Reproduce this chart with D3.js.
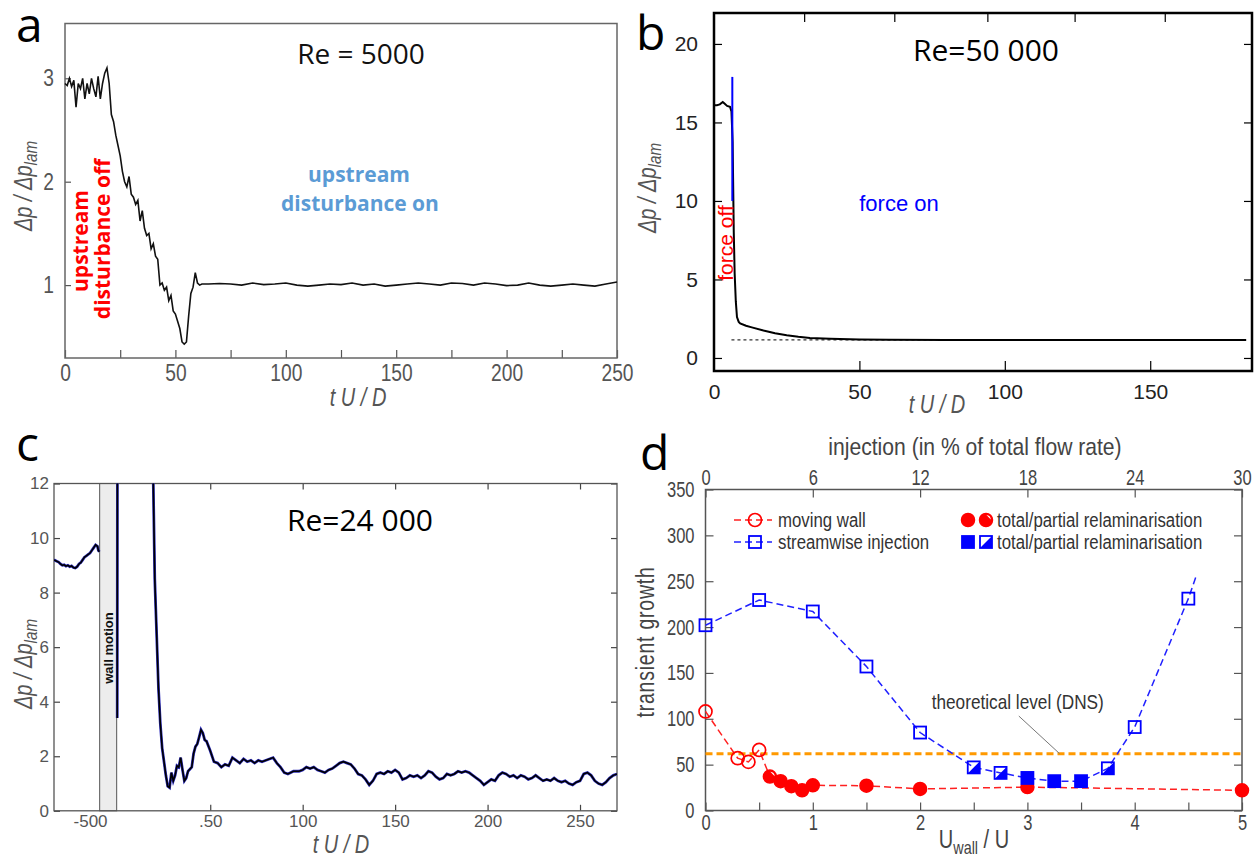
<!DOCTYPE html>
<html>
<head>
<meta charset="utf-8">
<script src="https://cdn.jsdelivr.net/npm/d3@7"></script>
<style>
  body { margin: 0; background: #fff; }
  svg { display: block; }
</style>
</head>
<body>
<svg id="fig" width="1260" height="861"></svg>
<script>
// ---- panel a : Re = 5000, [t, dp/dp_lam]
const seriesA = [
  [0,2.95],[1,2.93],[2,3.0],[3,2.92],[4,2.98],[5,2.72],[6,2.95],[7,2.9],[8,3.0],[9,2.8],
  [10,2.95],[11,2.85],[12,3.0],[13,2.9],[14,2.82],[15,3.02],[16,2.8],[17,2.95],[18,3.05],[19,3.1],
  [20,2.95],[21,2.65],[22,2.58],[23,2.45],[24,2.35],[25,2.25],[26,2.1],[27,2.0],[28,1.95],[29,2.05],
  [30,1.88],[31,1.85],[32,1.78],[33,1.82],[34,1.62],[35,1.72],[36,1.55],[37,1.48],[38,1.5],[39,1.35],
  [40,1.4],[41,1.28],[42,1.25],[43,1.0],[44,1.02],[45,0.95],[46,0.98],[47,0.85],[48,0.9],[49,0.75],
  [50,0.72],[51,0.65],[52,0.58],[53,0.45],[54,0.43],[55,0.45],[56,0.7],[57,0.92],[58,0.98],[59,1.12],
  [60,1.02],[61,1.0],[62,1.01],[65,1.01],[70,1.015],[75,1.01],[80,1.0],[85,1.02],[90,1.005],[95,1.01],
  [100,1.02],[105,1.0],[110,0.99],[115,1.0],[120,1.01],[125,1.005],[130,1.02],[135,1.0],[140,1.01],
  [145,0.99],[150,1.0],[155,1.01],[160,1.02],[165,1.01],[170,1.0],[175,1.02],[180,1.015],[185,1.0],
  [190,1.02],[195,1.01],[200,0.995],[205,1.0],[210,1.02],[215,1.0],[220,0.99],[225,1.0],[230,1.01],
  [235,1.0],[240,0.99],[245,1.01],[250,1.03]
];
const ticksAX = [0,25,50,75,100,125,150,175,200,225,250];
const ticksAY = [1,2,3];

// ---- panel b : Re = 50 000
const seriesB = [
  [0,16.1],[1,16.1],[2,16.15],[3,16.3],[3.6,16.2],[4.5,16.05],[5.5,16.0],[6.0,15.7],[6.4,13.8],
  [6.8,8],[7.1,5.4],[7.5,3.6],[7.9,2.6],[8.5,2.3],[9,2.2],[11,2.05],[13,1.95],[17,1.75],[21,1.58],
  [25,1.45],[29,1.35],[33,1.27],[40,1.22],[50,1.18],[60,1.16],[80,1.15],[120,1.15],[183,1.15]
];
const laminarB = [[6,1.15],[80,1.15]];
const forceB = [[6.3,10],[6.3,17.9]];
const ticksBX = [0,50,100,150];
const ticksBTop = [31,62,94,124,155];
const ticksBY = [0,5,10,15,20];

// ---- panel c : Re = 24 000
const seriesCPre = [
  [-34.5,9.2],[-33,9.15],[-32,9.12],[-31,9.05],[-30,9.0],[-29,9.02],[-28,8.97],[-27,9.0],[-26,8.95],
  [-25,8.98],[-24,8.92],[-23,8.9],[-22,8.95],[-21,9.05],[-20,9.1],[-19,9.2],[-18,9.3],[-17,9.35],
  [-16,9.4],[-15,9.45],[-14,9.55],[-13,9.65],[-12,9.75],[-11,9.7],[-10.5,9.55],[-10,9.5]
];
const seriesCPost = [
  [-0.3,3.4],[-0.2,13],[18.6,13],[19.2,12],[20,8.5],[21,6.5],[22,4.5],[23,3.2],[24,2.3],[25,1.8],
  [26,1.3],[27,0.9],[28,0.85],[29,1.4],[30,1.1],[31,1.3],[32,1.65],[33,1.6],[34,1.95],[35,1.5],
  [36,1.1],[37,1.2],[38,1.45],[40,1.6],[41,2.1],[42,2.35],[43,2.45],[44,2.7],[45,2.97],[46,2.85],
  [47,2.6],[48,2.55],[50,2.2],[52,1.8],[54,1.75],[56,1.6],[58,1.7],[60,1.65],[62,1.95],[64,1.85],
  [66,1.75],[68,1.9],[70,1.8],[72,1.85],[74,1.75],[76,1.85],[78,1.8],[82,1.9],[84,1.95],[86,1.75],
  [88,1.6],[90,1.4],[92,1.35],[95,1.45],[98,1.45],[100,1.5],[102,1.6],[104,1.55],[106,1.6],[108,1.5],
  [110,1.45],[112,1.4],[114,1.5],[116,1.55],[118,1.65],[120,1.75],[122,1.8],[124,1.75],[126,1.7],
  [128,1.55],[130,1.35],[132,1.3],[134,1.15],[136,0.95],[138,1.1],[140,1.35],[142,1.4],[144,1.35],
  [146,1.45],[148,1.4],[150,1.5],[152,1.4],[154,1.15],[156,1.2],[158,1.3],[160,1.25],[162,1.3],
  [164,1.2],[166,1.3],[168,1.45],[170,1.4],[172,1.25],[174,1.15],[176,1.2],[178,1.35],[180,1.3],
  [182,1.35],[184,1.45],[186,1.4],[188,1.45],[190,1.4],[192,1.3],[194,1.2],[196,1.1],[198,0.95],
  [200,1.05],[202,1.15],[204,1.1],[206,1.3],[208,1.4],[210,1.35],[212,1.25],[214,1.3],[216,1.2],
  [218,1.3],[220,1.25],[222,1.15],[224,1.2],[226,1.3],[228,1.2],[230,1.1],[232,1.15],[234,1.1],
  [236,1.2],[238,1.1],[240,1.05],[242,1.1],[244,1.0],[246,0.95],[248,1.05],[250,1.1],[252,1.35],
  [254,1.4],[256,1.3],[258,1.1],[260,1.0],[262,0.95],[264,1.05],[266,1.2],[268,1.3],[270,1.35]
];
const wallMotion = [-9.8, -0.6];
const ticksCX = [-15,50,100,150,200,250];
const labelsCX = ['-500','.50','100','150','200','250'];
const ticksCY = [0,2,4,6,8,10,12];

// ---- panel d : transient growth vs U_wall/U
const wallU     = [0,0.3,0.4,0.5,0.6,0.7,0.8,0.9,1.0,1.5,2.0,3.0,5.0];
const wallG     = [108,57,53,66,37,32,26.5,22,27.5,27,23.5,25.5,22];
const wallState = ['open','open','open','open','partial','full','full','full','full','full','full','full','full'];
const injU      = [0,0.5,1.0,1.5,2.0,2.5,2.75,3.0,3.25,3.5,3.75,4.0,4.5];
const injG      = [202,229.5,217,157,85,47,41,35.5,32,32,46,91,231];
const injState  = ['open','open','open','open','open','partial','partial','full','full','full','partial','open','open'];
const injTail   = [4.58, 258];
const dnsLevel  = 62;
const ticksDX = [0,0.5,1,1.5,2,2.5,3,3.5,4,4.5,5];
const ticksDTop = [0,6,12,18,24,30];
const ticksDY = [0,50,100,150,200,250,300,350];

const svg = d3.select('#fig');
const SANS = '"Liberation Sans",Arial,sans-serif';
const CAL = '"Open Sans","Noto Sans",sans-serif';

// horizontal squeeze, keeps the text anchored where it was
function squeeze(sel, k) {
  sel.each(function () {
    const t = d3.select(this);
    const x = +(t.attr('x') || 0);
    t.attr('x', x / k);
    t.attr('transform', (t.attr('transform') || '') + ` scale(${k},1)`);
  });
  return sel;
}

function cleanAxis(g, size, color, tickColor, k) {
  g.select('.domain').remove();
  const txt = g.selectAll('.tick text').attr('font-family', SANS).attr('font-size', size).attr('fill', color);
  if (k) squeeze(txt, k);
  g.selectAll('.tick line').attr('stroke', tickColor || color).attr('stroke-width', 1.2);
}

function yLabel(x, y, color) {
  const t = svg.append('text')
    .attr('transform', `translate(${x},${y}) rotate(-90)`)
    .attr('text-anchor', 'middle')
    .attr('font-family', SANS).attr('font-size', 25).attr('font-style', 'italic')
    .attr('fill', color);
  t.append('tspan').text('Δp / Δp');
  t.append('tspan').attr('dy', 5).attr('font-size', 19).text('lam');
  squeeze(t, 0.8);
}

function xLabel(x, y) {
  squeeze(svg.append('text').attr('x', x).attr('y', y).attr('text-anchor', 'middle')
    .attr('font-family', SANS).attr('font-size', 25).attr('font-style', 'italic')
    .attr('fill', '#555').text('t U / D'), 0.8);
}

function panelLetter(x, y, s) {
  svg.append('text').attr('x', x).attr('y', y).attr('font-family', CAL)
    .attr('font-size', 48).attr('fill', '#000').text(s);
}

function rotText(x, y, s, size, color, weight, font) {
  return svg.append('text').attr('transform', `translate(${x},${y}) rotate(-90)`)
    .attr('text-anchor', 'middle').attr('dominant-baseline', 'central')
    .attr('font-family', font).attr('font-size', size).attr('font-weight', weight)
    .attr('fill', color).text(s);
}

// ================= panel a =================
{
  const x = d3.scaleLinear().domain([0, 250]).range([65, 617]);
  const y = d3.scaleLinear().domain([0.295, 3.53]).range([358, 23.5]);
  const g = svg.append('g');

  g.append('g').attr('transform', `translate(0,${y.range()[0]})`)
    .call(d3.axisBottom(x).tickValues(ticksAX).tickSizeInner(-8).tickSizeOuter(0).tickPadding(6)
      .tickFormat(d => d % 50 === 0 ? d : ''))
    .call(a => cleanAxis(a, 24, '#555', '#555', 0.8));
  g.append('g').attr('transform', `translate(${x.range()[0]},0)`)
    .call(d3.axisLeft(y).tickValues(ticksAY).tickSizeInner(-6).tickSizeOuter(0).tickPadding(11)
      .tickFormat(d3.format('d')))
    .call(a => cleanAxis(a, 24, '#555', '#555', 0.8));

  g.append('rect').attr('x', x.range()[0]).attr('y', y.range()[1])
    .attr('width', x.range()[1] - x.range()[0]).attr('height', y.range()[0] - y.range()[1])
    .attr('fill', 'none').attr('stroke', '#666').attr('stroke-width', 1.5);

  g.append('path').datum(seriesA)
    .attr('d', d3.line().x(d => x(d[0])).y(d => y(d[1])))
    .attr('fill', 'none').attr('stroke', '#111').attr('stroke-width', 1.6);

  svg.append('text').attr('x', 361).attr('y', 64).attr('text-anchor', 'middle')
    .attr('font-family', CAL).attr('font-size', 28).attr('fill', '#111').text('Re = 5000');
  svg.append('text').attr('x', 359).attr('y', 182).attr('text-anchor', 'middle')
    .attr('font-family', CAL).attr('font-size', 21).attr('font-weight', 'bold')
    .attr('fill', '#5b9bd5').text('upstream');
  svg.append('text').attr('x', 360).attr('y', 211).attr('text-anchor', 'middle')
    .attr('font-family', CAL).attr('font-size', 21).attr('font-weight', 'bold')
    .attr('fill', '#5b9bd5').text('disturbance on');
  rotText(80, 241, 'upstream', 21, '#ff0000', 'bold', CAL);
  rotText(102, 239, 'disturbance off', 21, '#ff0000', 'bold', CAL);

  yLabel(32, 186, '#555');
  xLabel(358, 406);
  panelLetter(16, 42, 'a');
}

// ================= panel b =================
{
  const x = d3.scaleLinear().domain([0, 185]).range([714, 1252]);
  const y = d3.scaleLinear().domain([-0.83, 21.97]).range([371, 13]);
  const g = svg.append('g');

  g.append('g').attr('transform', `translate(0,${y.range()[0]})`)
    .call(d3.axisBottom(x).tickValues(ticksBX).tickSizeInner(-10).tickSizeOuter(0).tickPadding(13))
    .call(a => cleanAxis(a, 21, '#222', '#000'))
    .call(a => a.selectAll('.tick').filter(d => d === 0).select('line').remove());
  g.append('g').attr('transform', `translate(0,${y.range()[1]})`)
    .call(d3.axisTop(x).tickValues(ticksBTop).tickSizeInner(-9).tickSizeOuter(0).tickFormat(''))
    .call(a => cleanAxis(a, 21, '#000'));
  g.append('g').attr('transform', `translate(${x.range()[0]},0)`)
    .call(d3.axisLeft(y).tickValues(ticksBY).tickSizeInner(-8).tickSizeOuter(0).tickPadding(16))
    .call(a => cleanAxis(a, 21, '#222', '#000'));
  g.append('g').attr('transform', `translate(${x.range()[1]},0)`)
    .call(d3.axisRight(y).tickValues(ticksBY).tickSizeInner(-8).tickSizeOuter(0).tickFormat(''))
    .call(a => cleanAxis(a, 21, '#000'));

  g.append('rect').attr('x', x.range()[0]).attr('y', y.range()[1])
    .attr('width', x.range()[1] - x.range()[0]).attr('height', y.range()[0] - y.range()[1])
    .attr('fill', 'none').attr('stroke', '#000').attr('stroke-width', 2.5);

  const line = d3.line().x(d => x(d[0])).y(d => y(d[1]));
  g.append('path').datum(laminarB).attr('d', line)
    .attr('fill', 'none').attr('stroke', '#333').attr('stroke-width', 1.4).attr('stroke-dasharray', '3,3');
  g.append('path').datum(seriesB).attr('d', line)
    .attr('fill', 'none').attr('stroke', '#000').attr('stroke-width', 2);
  g.append('path').datum(forceB).attr('d', line)
    .attr('fill', 'none').attr('stroke', '#0000ff').attr('stroke-width', 2);

  svg.append('text').attr('x', 986).attr('y', 61).attr('text-anchor', 'middle')
    .attr('font-family', CAL).attr('font-size', 30).attr('fill', '#000').text('Re=50 000');
  svg.append('text').attr('x', 899).attr('y', 211).attr('text-anchor', 'middle')
    .attr('font-family', SANS).attr('font-size', 22).attr('fill', '#0000ff').text('force on');
  rotText(725, 243, 'force off', 21, '#ff0000', 'normal', SANS);

  yLabel(656, 188, '#555');
  xLabel(937, 413);
  panelLetter(636, 50, 'b');
}

// ================= panel c =================
{
  const x = d3.scaleLinear().domain([-34.5, 270]).range([54, 617]);
  const y = d3.scaleLinear().domain([0, 12]).range([810.8, 483.5]);
  const g = svg.append('g');

  g.append('defs').append('clipPath').attr('id', 'clipC').append('rect')
    .attr('x', x.range()[0]).attr('y', y.range()[1])
    .attr('width', x.range()[1] - x.range()[0]).attr('height', y.range()[0] - y.range()[1]);

  g.append('rect').attr('x', x(wallMotion[0])).attr('y', y.range()[1])
    .attr('width', x(wallMotion[1]) - x(wallMotion[0])).attr('height', y.range()[0] - y.range()[1])
    .attr('fill', '#ededed').attr('stroke', '#555').attr('stroke-width', 1);

  g.append('g').attr('transform', `translate(0,${y.range()[0]})`)
    .call(d3.axisBottom(x).tickValues(ticksCX).tickSizeInner(-6).tickSizeOuter(0).tickPadding(4)
      .tickFormat((d, i) => labelsCX[i]))
    .call(a => cleanAxis(a, 17, '#555', '#444'))
    .call(a => a.selectAll('.tick').filter(d => d < 0).select('line').remove());
  g.append('g').attr('transform', `translate(0,${y.range()[1]})`)
    .call(d3.axisTop(x).tickValues(ticksCX.filter(d => d > 0)).tickSizeInner(-6).tickSizeOuter(0).tickFormat(''))
    .call(a => cleanAxis(a, 17, '#444'));
  g.append('g').attr('transform', `translate(${x.range()[0]},0)`)
    .call(d3.axisLeft(y).tickValues(ticksCY).tickSizeInner(-6).tickSizeOuter(0).tickPadding(5))
    .call(a => cleanAxis(a, 17, '#555', '#444'));
  g.append('g').attr('transform', `translate(${x.range()[1]},0)`)
    .call(d3.axisRight(y).tickValues(ticksCY).tickSizeInner(-6).tickSizeOuter(0).tickFormat(''))
    .call(a => cleanAxis(a, 17, '#444'));

  g.append('rect').attr('x', x.range()[0]).attr('y', y.range()[1])
    .attr('width', x.range()[1] - x.range()[0]).attr('height', y.range()[0] - y.range()[1])
    .attr('fill', 'none').attr('stroke', '#555').attr('stroke-width', 1.3);

  const line = d3.line().x(d => x(d[0])).y(d => y(d[1]));
  const lines = g.append('g').attr('clip-path', 'url(#clipC)');
  [seriesCPre, seriesCPost].forEach(s => {
    lines.append('path').datum(s).attr('d', line)
      .attr('fill', 'none').attr('stroke', '#2b2bb8').attr('stroke-width', 2.8);
    lines.append('path').datum(s).attr('d', line)
      .attr('fill', 'none').attr('stroke', '#000').attr('stroke-width', 1.6);
  });

  rotText(x((wallMotion[0] + wallMotion[1]) / 2), 648, 'wall motion', 13, '#111', 'bold', SANS);
  svg.append('text').attr('x', 360).attr('y', 531).attr('text-anchor', 'middle')
    .attr('font-family', CAL).attr('font-size', 30).attr('fill', '#000').text('Re=24 000');

  yLabel(32, 664, '#555');
  xLabel(341, 853);
  panelLetter(16, 461, 'c');
}

// ================= panel d =================
{
  const x = d3.scaleLinear().domain([0, 5]).range([705.5, 1242]);
  const xTop = d3.scaleLinear().domain([0, 30]).range(x.range());
  const y = d3.scaleLinear().domain([0, 350]).range([810.5, 489.5]);
  const g = svg.append('g');

  g.append('g').attr('transform', `translate(0,${y.range()[0]})`)
    .call(d3.axisBottom(x).tickValues(ticksDX).tickSizeInner(-8).tickSizeOuter(0).tickPadding(4)
      .tickFormat(d => Number.isInteger(d) ? d : ''))
    .call(a => cleanAxis(a, 22, '#444', '#555', 0.75));
  g.append('g').attr('transform', `translate(0,${y.range()[1]})`)
    .call(d3.axisTop(xTop).tickValues(ticksDTop).tickSizeInner(-8).tickSizeOuter(0).tickPadding(5))
    .call(a => cleanAxis(a, 22, '#444', '#555', 0.75));
  g.append('g').attr('transform', `translate(${x.range()[0]},0)`)
    .call(d3.axisLeft(y).tickValues(ticksDY).tickSizeInner(-8).tickSizeOuter(0).tickPadding(11))
    .call(a => cleanAxis(a, 22, '#444', '#555', 0.75));
  g.append('g').attr('transform', `translate(${x.range()[1]},0)`)
    .call(d3.axisRight(y).tickValues(ticksDY).tickSizeInner(-8).tickSizeOuter(0).tickFormat(''))
    .call(a => cleanAxis(a, 22, '#555'));

  g.append('rect').attr('x', x.range()[0]).attr('y', y.range()[1])
    .attr('width', x.range()[1] - x.range()[0]).attr('height', y.range()[0] - y.range()[1])
    .attr('fill', 'none').attr('stroke', '#555').attr('stroke-width', 1.5);

  // theoretical level
  g.append('line').attr('x1', x(0)).attr('x2', x(5)).attr('y1', y(dnsLevel)).attr('y2', y(dnsLevel))
    .attr('stroke', '#ff9900').attr('stroke-width', 3).attr('stroke-dasharray', '7,4');
  g.append('line').attr('x1', x(2.92)).attr('y1', y(103)).attr('x2', x(3.3)).attr('y2', y(dnsLevel))
    .attr('stroke', '#777').attr('stroke-width', 1);
  squeeze(g.append('text').attr('x', x(2.91)).attr('y', y(118) + 7).attr('text-anchor', 'middle')
    .attr('font-family', SANS).attr('font-size', 21).attr('fill', '#333').text('theoretical level (DNS)'), 0.82);

  const line = d3.line().x(d => x(d[0])).y(d => y(d[1]));
  const wallPts = wallU.map((u, i) => [u, wallG[i], wallState[i]]);
  const injPts = injU.map((u, i) => [u, injG[i], injState[i]]);

  g.append('path').datum(wallPts).attr('d', line)
    .attr('fill', 'none').attr('stroke', '#ff2020').attr('stroke-width', 1.5).attr('stroke-dasharray', '7,4');
  g.append('path').datum(injPts.concat([injTail])).attr('d', line)
    .attr('fill', 'none').attr('stroke', '#2020ff').attr('stroke-width', 1.5).attr('stroke-dasharray', '7,4');

  const R = 6.5, S = 12;
  function circleMark(sel, cx, cy, state) {
    const c = '#ff0000';
    if (state === 'open') {
      sel.append('circle').attr('cx', cx).attr('cy', cy).attr('r', R)
        .attr('fill', 'none').attr('stroke', c).attr('stroke-width', 1.7);
    } else {
      sel.append('circle').attr('cx', cx).attr('cy', cy).attr('r', R)
        .attr('fill', c).attr('stroke', c).attr('stroke-width', 1.5);
      if (state === 'partial') {
        const r = R - 1.6, a1 = -85 * Math.PI / 180, a2 = -5 * Math.PI / 180;
        sel.append('path')
          .attr('d', `M${cx + r * Math.cos(a1)},${cy + r * Math.sin(a1)} A${r},${r} 0 0 1 ${cx + r * Math.cos(a2)},${cy + r * Math.sin(a2)} Z`)
          .attr('fill', '#fff');
      }
    }
  }
  function squareMark(sel, cx, cy, state) {
    const c = '#0000ff', h = S / 2;
    sel.append('rect').attr('x', cx - h).attr('y', cy - h).attr('width', S).attr('height', S)
      .attr('fill', state === 'full' ? c : 'none').attr('stroke', c).attr('stroke-width', 1.8);
    if (state === 'partial') {
      sel.append('path').attr('d', `M${cx - h},${cy + h} L${cx + h},${cy - h} L${cx + h},${cy + h} Z`)
        .attr('fill', c);
    }
  }

  const marks = g.append('g');
  wallPts.forEach(d => circleMark(marks, x(d[0]), y(d[1]), d[2]));
  injPts.forEach(d => squareMark(marks, x(d[0]), y(d[1]), d[2]));

  // legend
  const lg = g.append('g');
  const rows = [520, 542];
  lg.append('line').attr('x1', 734).attr('x2', 772).attr('y1', rows[0]).attr('y2', rows[0])
    .attr('stroke', '#ff2020').attr('stroke-width', 1.5).attr('stroke-dasharray', '7,4');
  lg.append('line').attr('x1', 734).attr('x2', 772).attr('y1', rows[1]).attr('y2', rows[1])
    .attr('stroke', '#2020ff').attr('stroke-width', 1.5).attr('stroke-dasharray', '7,4');
  circleMark(lg, 755, rows[0], 'open');
  squareMark(lg, 755, rows[1], 'open');
  circleMark(lg, 968, rows[0], 'full');
  circleMark(lg, 986, rows[0], 'partial');
  squareMark(lg, 968, rows[1], 'full');
  squareMark(lg, 986, rows[1], 'partial');
  const legText = ['moving wall', 'streamwise injection'];
  legText.forEach((t, i) => squeeze(lg.append('text').attr('x', 778).attr('y', rows[i])
    .attr('dominant-baseline', 'central').attr('font-family', SANS).attr('font-size', 21)
    .attr('fill', '#333').text(t), 0.8));
  rows.forEach(r => squeeze(lg.append('text').attr('x', 997).attr('y', r)
    .attr('dominant-baseline', 'central').attr('font-family', SANS).attr('font-size', 21)
    .attr('fill', '#333').text('total/partial relaminarisation'), 0.8));

  // axis titles
  squeeze(svg.append('text').attr('x', 975).attr('y', 455).attr('text-anchor', 'middle')
    .attr('font-family', SANS).attr('font-size', 24).attr('fill', '#444')
    .text('injection (in % of total flow rate)'), 0.88);
  squeeze(svg.append('text').attr('transform', 'translate(654,642) rotate(-90)').attr('text-anchor', 'middle')
    .attr('font-family', SANS).attr('font-size', 25).attr('letter-spacing', 1).attr('fill', '#444')
    .text('transient growth'), 0.78);
  const xl = svg.append('text').attr('x', 974).attr('y', 848).attr('text-anchor', 'middle')
    .attr('font-family', SANS).attr('font-size', 25).attr('fill', '#444');
  xl.append('tspan').text('U');
  xl.append('tspan').attr('dy', 6).attr('font-size', 18).text('wall');
  xl.append('tspan').attr('dy', -6).text(' / U');
  squeeze(xl, 0.8);

  panelLetter(640, 470, 'd');
}
</script>
</body>
</html>
